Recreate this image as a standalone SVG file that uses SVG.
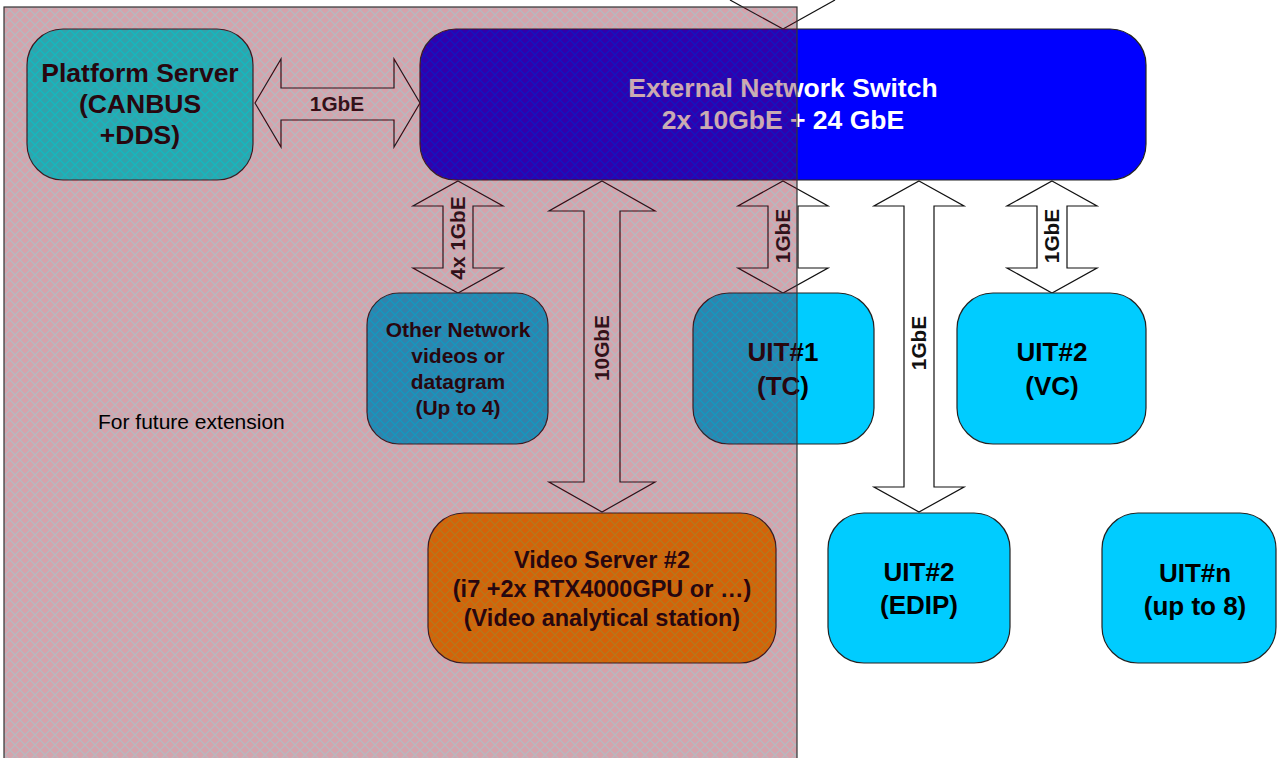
<svg xmlns="http://www.w3.org/2000/svg" width="1281" height="758" viewBox="0 0 1281 758">
<defs>
<style>
.node{stroke:#222;stroke-width:1.2}
.t{font-family:"Liberation Sans",Arial,sans-serif;font-weight:bold;fill:#000;text-anchor:middle}
.arrow{fill:#fff;stroke:#111;stroke-width:1.2;stroke-linejoin:miter}
.lbl{font-family:"Liberation Sans",Arial,sans-serif;font-weight:bold;font-size:20.8px;fill:#111;text-anchor:middle}
</style>
<pattern id="hatch" patternUnits="userSpaceOnUse" width="10" height="10">
<rect width="10" height="10" fill="#8a0018"/>
<path d="M-1,-1 L11,11 M-1,11 L11,-1 M-6,4 L6,16 M4,-6 L16,6 M-6,6 L6,-6 M4,16 L16,4" stroke="#2a4252" stroke-width="1.2"/>
</pattern>
</defs>
<rect width="1281" height="758" fill="#fff"/>

<g id="connectors">
<line x1="730" y1="0" x2="783" y2="29" stroke="#111" stroke-width="1.2"/>
<line x1="835" y1="0" x2="783" y2="29" stroke="#111" stroke-width="1.2"/>
<polygon class="arrow" points="255,103 281,59 281,88 394,88 394,59 420,103 394,147 394,120 281,120 281,147"/>
<text class="lbl" x="337" y="111">1GbE</text>
<polygon class="arrow" points="458,181 503,206 473,206 473,268 503,268 458,293 413,268 443,268 443,206 413,206"/>
<text class="lbl" transform="rotate(-90 465 238)" x="465" y="238">4x 1GbE</text>
<polygon class="arrow" points="602,181 655,211 620,211 620,482 655,482 602,512 549,482 584,482 584,211 549,211"/>
<text class="lbl" transform="rotate(-90 609 348)" x="609" y="348">10GbE</text>
<polygon class="arrow" points="783,181 828,206 798,206 798,268 828,268 783,293 738,268 768,268 768,206 738,206"/>
<text class="lbl" transform="rotate(-90 790 236)" x="790" y="236">1GbE</text>
<polygon class="arrow" points="1052,181 1097,206 1067,206 1067,268 1097,268 1052,293 1007,268 1037,268 1037,206 1007,206"/>
<text class="lbl" transform="rotate(-90 1059 236)" x="1059" y="236">1GbE</text>
<polygon class="arrow" points="919,181 964,206 934,206 934,487 964,487 919,512 874,487 904,487 904,206 874,206"/>
<text class="lbl" transform="rotate(-90 926 343)" x="926" y="343">1GbE</text>
</g>

<g id="platform-server">
<rect class="node" x="27" y="29" width="226" height="151" rx="36" fill="#00ffff"/>
<text class="t" font-size="26.5" x="140" y="82">Platform Server</text>
<text class="t" font-size="26.5" x="140" y="113">(CANBUS</text>
<text class="t" font-size="26.5" x="140" y="144">+DDS)</text>
</g>

<g id="switch">
<rect class="node" x="420" y="29" width="726" height="151" rx="36" fill="#0000ff"/>
<text class="t" font-size="26.5" x="783" y="97" style="fill:#fff">External Network Switch</text>
<text class="t" font-size="26.5" x="783" y="129" style="fill:#fff">2x 10GbE + 24 GbE</text>
</g>

<g id="other-network">
<rect class="node" x="367" y="293" width="181" height="151" rx="32" fill="#00ccff"/>
<text class="t" font-size="21" x="458" y="337">Other Network</text>
<text class="t" font-size="21" x="458" y="363">videos or</text>
<text class="t" font-size="21" x="458" y="389">datagram</text>
<text class="t" font-size="21" x="458" y="415">(Up to 4)</text>
</g>

<g id="uit1">
<rect class="node" x="693" y="293" width="181" height="151" rx="36" fill="#00ccff"/>
<text class="t" font-size="26" x="783" y="361">UIT#1</text>
<text class="t" font-size="26" x="783" y="395">(TC)</text>
</g>

<g id="uit2-vc">
<rect class="node" x="957" y="293" width="189" height="151" rx="36" fill="#00ccff"/>
<text class="t" font-size="26" x="1052" y="361">UIT#2</text>
<text class="t" font-size="26" x="1052" y="395">(VC)</text>
</g>

<g id="uit2-edip">
<rect class="node" x="828" y="513" width="182" height="150" rx="36" fill="#00ccff"/>
<text class="t" font-size="26" x="919" y="581">UIT#2</text>
<text class="t" font-size="26" x="919" y="614">(EDIP)</text>
</g>

<g id="uitn">
<rect class="node" x="1102" y="513" width="174" height="150" rx="36" fill="#00ccff"/>
<text class="t" font-size="26" x="1195" y="582">UIT#n</text>
<text class="t" font-size="26" x="1195" y="615">(up to 8)</text>
</g>

<g id="video-server">
<rect class="node" x="428" y="513" width="348" height="150" rx="36" fill="#ff9900"/>
<text class="t" font-size="23.5" x="602" y="568">Video Server #2</text>
<text class="t" font-size="23.5" x="602" y="597">(i7 +2x RTX4000GPU or …)</text>
<text class="t" font-size="23.5" x="602" y="626">(Video analytical station)</text>
</g>

<g id="future-extension">
<rect x="4" y="7" width="793" height="760" fill="url(#hatch)" opacity="0.36"/>
<rect x="4" y="7" width="793" height="760" fill="none" stroke="#333" stroke-width="1.2"/>
<text x="98" y="429" font-family="Liberation Sans, Arial, sans-serif" font-size="21" fill="#000">For future extension</text>
</g>
</svg>
